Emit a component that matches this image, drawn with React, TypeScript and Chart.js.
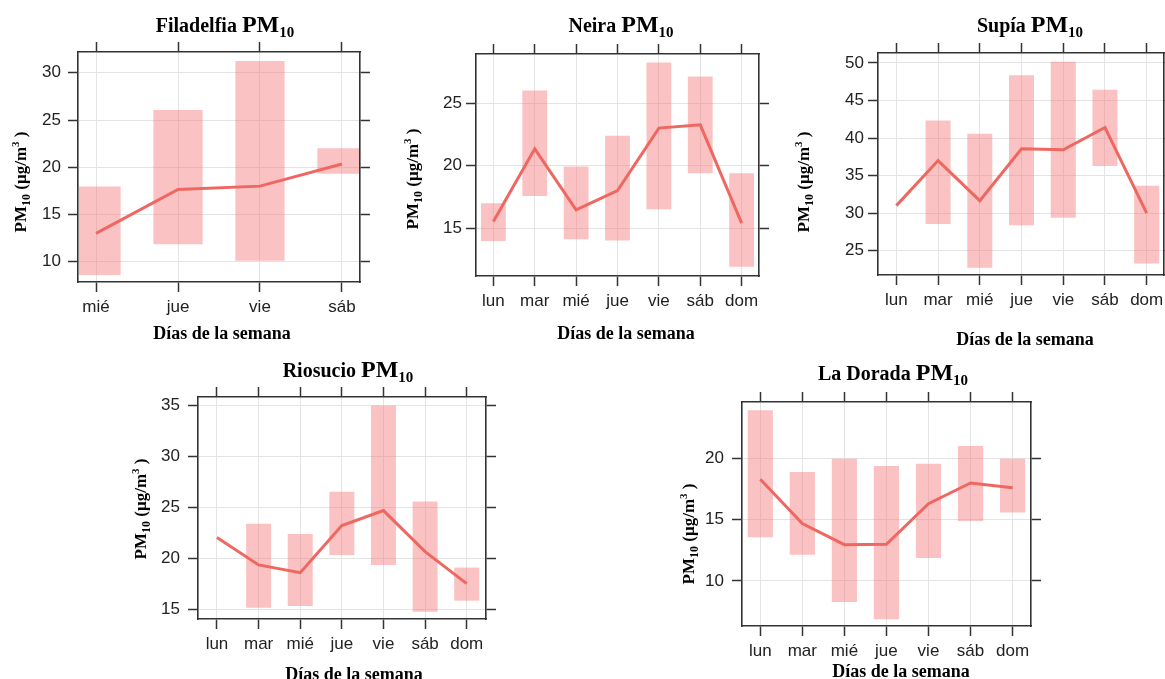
import React, { useEffect, useRef } from 'react';
import { Chart, registerables } from 'chart.js';

Chart.register(...registerables);

// ---------------- Data ----------------
const daysFiladelfia = ['mié', 'jue', 'vie', 'sáb'];
const daysWeek = ['lun', 'mar', 'mié', 'jue', 'vie', 'sáb', 'dom'];

const filadelfiaLow = [8.6, 11.85, 10.1, 19.3];
const filadelfiaHigh = [17.95, 26.05, 31.25, 22.0];
const filadelfiaMean = [13.0, 17.65, 18.0, 20.35];
const filadelfiaYTicks = [10, 15, 20, 25, 30];

const neiraLow = [13.98, 17.58, 14.12, 14.01, 16.52, 19.4, 11.91];
const neiraHigh = [17.0, 26.0, 19.93, 22.38, 28.25, 27.13, 19.4];
const neiraMean = [15.53, 21.34, 16.46, 18.01, 23.0, 23.26, 15.4];
const neiraYTicks = [15, 20, 25];

const supiaLow = [null, 28.55, 22.71, 28.4, 29.4, 36.29, 23.3];
const supiaHigh = [null, 42.34, 40.56, 48.35, 50.17, 46.44, 33.66];
const supiaMean = [31.0, 37.0, 31.66, 38.56, 38.43, 41.4, 30.0];
const supiaYTicks = [25, 30, 35, 40, 45, 50];

const riosucioLow = [null, 15.16, 15.33, 20.34, 19.36, 14.77, 15.85];
const riosucioHigh = [null, 23.4, 22.41, 26.54, 35.03, 25.59, 19.1];
const riosucioMean = [22.05, 19.36, 18.6, 23.23, 24.7, 20.67, 17.52];
const riosucioYTicks = [15, 20, 25, 30, 35];

const doradaLow = [13.57, 12.15, 8.28, 6.87, 11.88, 14.9, 15.59];
const doradaHigh = [23.95, 18.91, 20.0, 19.4, 19.59, 21.04, 20.0];
const doradaMean = [18.31, 14.69, 12.97, 13.0, 16.32, 18.01, 17.63];
const doradaYTicks = [10, 15, 20];

// ---------------- Layout / style ----------------
const SANS = '"Liberation Sans", Arial, Helvetica, sans-serif';
const SERIF = '"Liberation Serif", "Times New Roman", Times, serif';
const BAR_COLOR = 'rgba(244,119,119,0.45)';
const LINE_COLOR = '#ef6761';
const GRID_COLOR = '#e4e4e4';
const FRAME_COLOR = '#333333';
const TICK_TEXT = '#222222';

type Panel = {
  name: string;
  cats: string[];
  low: (number | null)[];
  high: (number | null)[];
  mean: number[];
  yTicks: number[];
  canvas: { x: number; y: number; w: number; h: number };
  box: { l: number; t: number; r: number; b: number };
  xRange: [number, number];
  yRange: [number, number];
  yPad: number;
  title: { x: number; y: number };
  xTitle: { x: number; y: number };
  yTitle: { x: number; y: number };
};

const panels: Panel[] = [
  {
    name: 'Filadelfia', cats: daysFiladelfia, low: filadelfiaLow, high: filadelfiaHigh, mean: filadelfiaMean, yTicks: filadelfiaYTicks,
    canvas: { x: 0, y: 0, w: 385, h: 350 }, box: { l: 78, t: 52, r: 360, b: 282 },
    xRange: [-0.22, 3.22], yRange: [7.85, 32.2], yPad: 7,
    title: { x: 225, y: 32 }, xTitle: { x: 222, y: 339 }, yTitle: { x: 20, y: 182 },
  },
  {
    name: 'Neira', cats: daysWeek, low: neiraLow, high: neiraHigh, mean: neiraMean, yTicks: neiraYTicks,
    canvas: { x: 390, y: 0, w: 385, h: 350 }, box: { l: 476, t: 54, r: 759, b: 276 },
    xRange: [-0.42, 6.42], yRange: [11.18, 28.92], yPad: 4,
    title: { x: 621, y: 32 }, xTitle: { x: 626, y: 339 }, yTitle: { x: 412, y: 179 },
  },
  {
    name: 'Supía', cats: daysWeek, low: supiaLow, high: supiaHigh, mean: supiaMean, yTicks: supiaYTicks,
    canvas: { x: 780, y: 0, w: 385, h: 350 }, box: { l: 878, t: 53, r: 1164, b: 275 },
    xRange: [-0.44, 6.415], yRange: [21.76, 51.33], yPad: 4,
    title: { x: 1030, y: 32 }, xTitle: { x: 1025, y: 345 }, yTitle: { x: 803, y: 182 },
  },
  {
    name: 'Riosucio', cats: daysWeek, low: riosucioLow, high: riosucioHigh, mean: riosucioMean, yTicks: riosucioYTicks,
    canvas: { x: 120, y: 345, w: 385, h: 334 }, box: { l: 198, t: 397, r: 486, b: 619 },
    xRange: [-0.456, 6.463], yRange: [14.05, 35.86], yPad: 8,
    title: { x: 348, y: 377 }, xTitle: { x: 354, y: 680 }, yTitle: { x: 140, y: 509 },
  },
  {
    name: 'La Dorada', cats: daysWeek, low: doradaLow, high: doradaHigh, mean: doradaMean, yTicks: doradaYTicks,
    canvas: { x: 660, y: 345, w: 385, h: 334 }, box: { l: 742, t: 402, r: 1031, b: 626 },
    xRange: [-0.435, 6.438], yRange: [6.32, 24.63], yPad: 8,
    title: { x: 893, y: 380 }, xTitle: { x: 901, y: 677 }, yTitle: { x: 688, y: 534 },
  },
];

type Part = { t: string; size: number; dy?: number };

function drawRich(ctx: CanvasRenderingContext2D, parts: Part[], x: number, y: number) {
  let total = 0;
  const widths = parts.map((pt) => {
    ctx.font = `bold ${pt.size}px ${SERIF}`;
    const w = ctx.measureText(pt.t).width;
    total += w;
    return w;
  });
  let cx = x - total / 2;
  parts.forEach((pt, i) => {
    ctx.font = `bold ${pt.size}px ${SERIF}`;
    ctx.fillText(pt.t, cx, y + (pt.dy || 0));
    cx += widths[i];
  });
}

function PanelChart({ p }: { p: Panel }) {
  const ref = useRef<HTMLCanvasElement | null>(null);

  useEffect(() => {
    if (!ref.current) return;
    const c = p.canvas;
    const b = p.box;
    const leftW = b.l - c.x;
    const rightW = Math.max(1, c.x + c.w - b.r);
    const topH = b.t - c.y;
    const bottomH = c.y + c.h - b.b;

    const barData: { x: number; y: [number, number] }[] = [];
    p.cats.forEach((_, i) => {
      const lo = p.low[i];
      const hi = p.high[i];
      if (lo != null && hi != null) barData.push({ x: i, y: [lo, hi] });
    });
    const lineData = p.mean.map((v, i) => ({ x: i, y: v }));

    const xTicks = () => p.cats.map((_, i) => ({ value: i }));
    const yTicks = () => p.yTicks.map((v) => ({ value: v }));

    const grid = { color: GRID_COLOR, lineWidth: 1, tickColor: FRAME_COLOR, tickLength: 10, tickWidth: 1.5, drawTicks: true, offset: false };
    const border = { display: true, color: FRAME_COLOR, width: 1.6 };
    const tickFont = { family: SANS, size: 17 };

    const textPlugin = {
      id: 'panelText',
      afterDraw(chart: Chart) {
        const ctx = chart.ctx;
        ctx.save();
        ctx.fillStyle = '#000';
        ctx.textAlign = 'left';
        ctx.textBaseline = 'alphabetic';
        drawRich(ctx, [
          { t: p.name + ' ', size: 20 },
          { t: 'PM', size: 24 },
          { t: '10', size: 15, dy: 5 },
        ], p.title.x - c.x, p.title.y - c.y);
        drawRich(ctx, [{ t: 'Días de la semana', size: 18 }], p.xTitle.x - c.x, p.xTitle.y - c.y);
        ctx.translate(p.yTitle.x - c.x, p.yTitle.y - c.y);
        ctx.rotate(-Math.PI / 2);
        drawRich(ctx, [
          { t: 'PM', size: 17 },
          { t: '10', size: 12, dy: 4 },
          { t: ' (µg/m', size: 17 },
          { t: '3', size: 11, dy: -7 },
          { t: ' )', size: 17 },
        ], 0, 6);
        ctx.restore();
      },
    };

    const chart = new Chart(ref.current, {
      type: 'bar',
      data: {
        datasets: [
          {
            type: 'line',
            data: lineData,
            xAxisID: 'x',
            yAxisID: 'y',
            borderColor: LINE_COLOR,
            borderWidth: 3,
            pointRadius: 0,
            pointHoverRadius: 0,
            fill: false,
            tension: 0,
            order: 0,
          } as any,
          {
            type: 'bar',
            data: barData,
            xAxisID: 'x',
            yAxisID: 'y',
            backgroundColor: BAR_COLOR,
            borderWidth: 0,
            categoryPercentage: 1,
            barPercentage: 0.6,
            clip: -1,
            order: 1,
          } as any,
        ],
      },
      options: {
        animation: false,
        responsive: false,
        maintainAspectRatio: false,
        events: [],
        layout: { padding: 0 },
        plugins: { legend: { display: false }, tooltip: { enabled: false }, title: { display: false } },
        scales: {
          x: {
            type: 'linear', axis: 'x', position: 'bottom', min: p.xRange[0], max: p.xRange[1], offset: false,
            afterBuildTicks: (s: any) => { s.ticks = xTicks(); },
            ticks: {
              autoSkip: false, maxRotation: 0, minRotation: 0, padding: 5, font: tickFont, color: TICK_TEXT,
              callback: (v: any) => p.cats[Math.round(Number(v))] ?? '',
            },
            grid: { ...grid },
            border: { ...border },
            afterFit: (s: any) => { s.height = bottomH; s.paddingLeft = 0; s.paddingRight = 0; },
          },
          x2: {
            type: 'linear', axis: 'x', position: 'top', min: p.xRange[0], max: p.xRange[1], offset: false,
            afterBuildTicks: (s: any) => { s.ticks = xTicks(); },
            ticks: { display: false },
            grid: { ...grid, drawOnChartArea: false },
            border: { ...border },
            afterFit: (s: any) => { s.height = topH; s.paddingLeft = 0; s.paddingRight = 0; },
          },
          y: {
            type: 'linear', axis: 'y', position: 'left', min: p.yRange[0], max: p.yRange[1],
            afterBuildTicks: (s: any) => { s.ticks = yTicks(); },
            ticks: { padding: p.yPad, font: tickFont, color: TICK_TEXT },
            grid: { ...grid },
            border: { ...border },
            afterFit: (s: any) => { s.width = leftW; s.paddingTop = 0; s.paddingBottom = 0; },
          },
          y2: {
            type: 'linear', axis: 'y', position: 'right', min: p.yRange[0], max: p.yRange[1],
            afterBuildTicks: (s: any) => { s.ticks = yTicks(); },
            ticks: { display: false },
            grid: { ...grid, drawOnChartArea: false },
            border: { ...border },
            afterFit: (s: any) => { s.width = rightW; s.paddingTop = 0; s.paddingBottom = 0; },
          },
        },
      } as any,
      plugins: [textPlugin as any],
    });
    return () => chart.destroy();
  }, [p]);

  return (
    <canvas
      ref={ref}
      width={p.canvas.w}
      height={p.canvas.h}
      style={{ position: 'absolute', left: p.canvas.x, top: p.canvas.y, width: p.canvas.w, height: p.canvas.h }}
    />
  );
}

export default function App() {
  return (
    <div style={{ position: 'absolute', left: 0, top: 0, width: 1165, height: 679, background: '#ffffff', overflow: 'hidden' }}>
      {panels.map((p) => (
        <PanelChart key={p.name} p={p} />
      ))}
    </div>
  );
}
